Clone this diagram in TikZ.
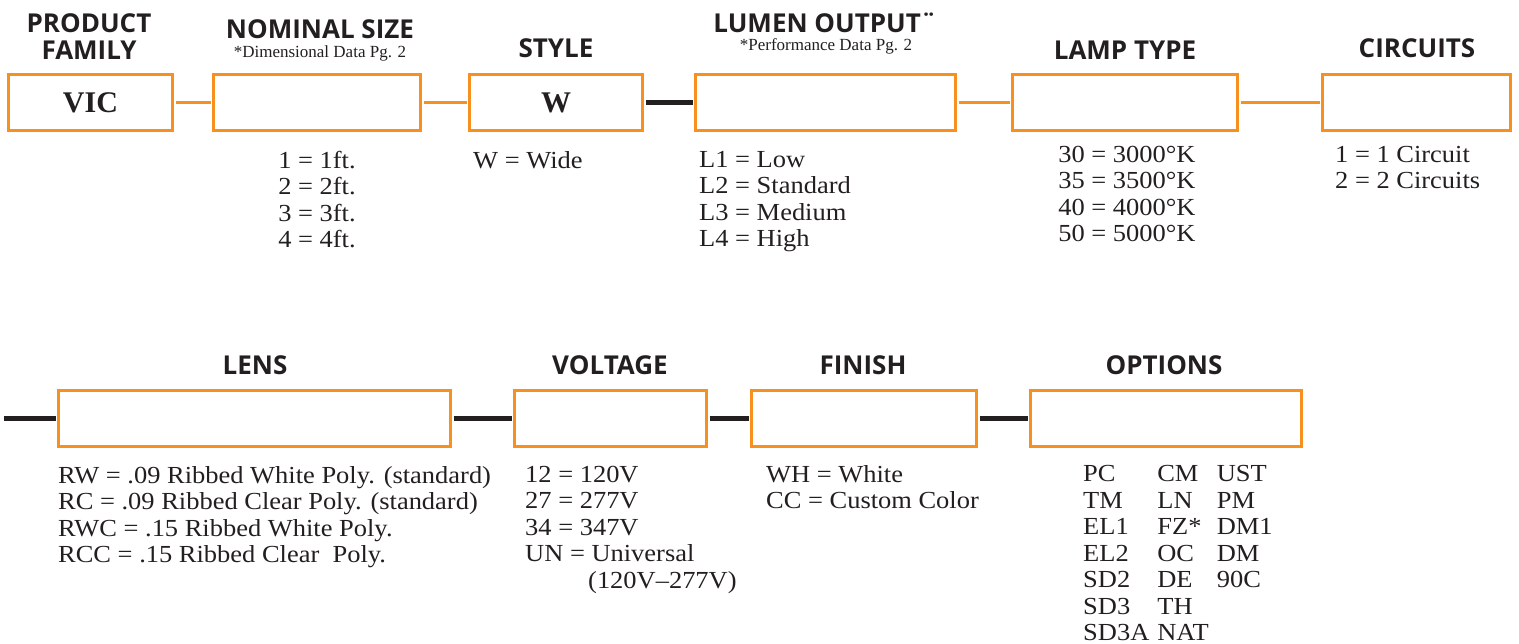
\documentclass[tikz,border=0pt]{standalone}
\usepackage{fontspec}
\setmainfont{Liberation Serif}
\newfontfamily\headfont{Open Sans}
\usetikzlibrary{positioning}
\definecolor{ink}{HTML}{231F20}
\definecolor{amber}{HTML}{F7901E}

\begin{document}
\begin{tikzpicture}[x=1pt,y=-1pt,
  slot/.style={draw=amber,line width=3pt,fill=white,minimum height=56,inner sep=0pt,font=\fontsize{30}{30}\selectfont\bfseries,text=ink},
  head/.style={font=\headfont\fontsize{26}{27}\selectfont\bfseries,text=ink,inner sep=0pt,align=center},
  note/.style={font=\fontsize{17}{17}\selectfont,text=ink,inner sep=0pt},
  desc/.style={font=\fontsize{24.5}{26.5}\selectfont\addfontfeatures{FakeStretch=1.08},text=ink,inner sep=0pt,align=left},
  olink/.style={draw=amber,line width=3pt,shorten <=1.5pt,shorten >=1.5pt},
  klink/.style={draw=ink,line width=4.5pt,shorten <=1.5pt,shorten >=1.5pt}
]
\useasboundingbox (0,0) rectangle (1519,644);
% first row
\node[slot,minimum width=164] (family) at (90.5,102.5) {VIC};
\node[slot,minimum width=207] (size) at (317,102.5) {};
\node[slot,minimum width=173] (style) at (556,102.5) {W};
\node[slot,minimum width=260] (lumen) at (825.5,102.5) {};
\node[slot,minimum width=225] (lamp) at (1125,102.5) {};
\node[slot,minimum width=188] (circ) at (1416.5,102.5) {};
\node[head] (hfamily) at (89,37) {PRODUCT\\FAMILY};
\node[head] (hsize) at (320,29) {NOMINAL SIZE};
\node[note] (nsize) at (320,53) {*Dimensional Data Pg. 2};
\node[head] (hstyle) at (556,48) {STYLE};
\node[head] (hlumen) at (825,23) {LUMEN OUTPUT¨};
\node[note] (nlumen) at (826,46) {*Performance Data Pg. 2};
\node[head] (hlamp) at (1125,50) {LAMP TYPE};
\node[head] (hcirc) at (1417,48) {CIRCUITS};
\node[desc,align=center,anchor=north] (sizelist) at (317,151) {1 = 1ft.\\2 = 2ft.\\3 = 3ft.\\4 = 4ft.};
\node[desc,anchor=north west] (stylelist) at (473,151) {W = Wide};
\node[desc,anchor=north west] (lumenlist) at (699,151) {L1 = Low\\L2 = Standard\\L3 = Medium\\L4 = High};
\node[desc,align=center,anchor=north] (lamplist) at (1127,146) {30 = 3000°K\\35 = 3500°K\\40 = 4000°K\\50 = 5000°K};
\node[desc,anchor=north west] (circlist) at (1335,146) {1 = 1 Circuit\\2 = 2 Circuits};
\draw[olink] (family)--(size);
\draw[olink] (size)--(style);
\draw[klink] (style)--(lumen);
\draw[olink] (lumen)--(lamp);
\draw[olink] (lamp)--(circ);
% second row
\node[slot,minimum width=392] (lens) at (254.5,418.5) {};
\node[slot,minimum width=192] (volt) at (610.5,418.5) {};
\node[slot,minimum width=225] (finish) at (864,418.5) {};
\node[slot,minimum width=271] (opts) at (1166,418.5) {};
\node[head] (hlens) at (255,365) {LENS};
\node[head] (hvolt) at (610,365) {VOLTAGE};
\node[head] (hfinish) at (863,365) {FINISH};
\node[head] (hopts) at (1164,365) {OPTIONS};
\node[desc,anchor=north west] (lenslist) at (58,466) {RW = .09 Ribbed White Poly. (standard)\\RC = .09 Ribbed Clear Poly. (standard)\\RWC = .15 Ribbed White Poly.\\RCC = .15 Ribbed Clear\ \ Poly.};
\node[desc,anchor=north west] (voltlist) at (525,466) {12 = 120V\\27 = 277V\\34 = 347V\\UN = Universal\\\hspace*{63pt}(120V–277V)};
\node[desc,anchor=north west] (finlist) at (766,465) {WH = White\\CC = Custom Color};
\node[desc,anchor=north west] (optlist) at (1083,463) {%
  \setlength{\tabcolsep}{4pt}%
  \begin{tabular}{@{}lll@{}}
  PC & CM & UST\\ TM & LN & PM\\ EL1 & FZ* & DM1\\ EL2 & OC & DM\\
  SD2 & DE & 90C\\ SD3 & TH & \\ SD3A & NAT &
  \end{tabular}};
\coordinate (lead) at (4,418.5);
\draw[klink,shorten <=0pt] (lead)--(lens);
\draw[klink] (lens)--(volt);
\draw[klink] (volt)--(finish);
\draw[klink] (finish)--(opts);
\end{tikzpicture}
\end{document}
